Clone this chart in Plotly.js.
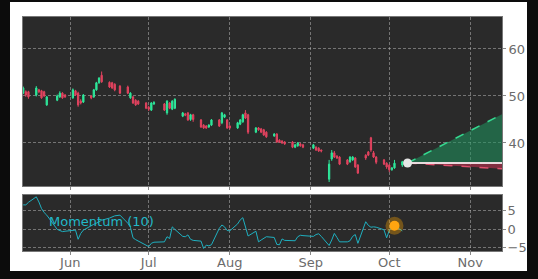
<!DOCTYPE html>
<html><head><meta charset="utf-8">
<script src="https://cdn.plot.ly/plotly-3.0.1.min.js"></script>
<style>html,body{margin:0;padding:0;background:#0c0c0c;width:538px;height:279px;overflow:hidden;}#chart{position:absolute;left:10px;top:2px;width:517px;height:269px;}</style>
</head><body><div id="chart"></div>
<script>
const dates = ['2025-05-14','2025-05-15','2025-05-16','2025-05-19','2025-05-20','2025-05-21','2025-05-22','2025-05-23',
'2025-05-27','2025-05-28','2025-05-29','2025-05-30','2025-06-02','2025-06-03','2025-06-04','2025-06-05','2025-06-06',
'2025-06-09','2025-06-10','2025-06-11','2025-06-12','2025-06-13','2025-06-16','2025-06-17','2025-06-18','2025-06-20',
'2025-06-23','2025-06-24','2025-06-25','2025-06-26','2025-06-27','2025-06-30','2025-07-01','2025-07-02','2025-07-03',
'2025-07-07','2025-07-08','2025-07-09','2025-07-10','2025-07-11','2025-07-14','2025-07-15','2025-07-16','2025-07-17','2025-07-18',
'2025-07-21','2025-07-22','2025-07-23','2025-07-24','2025-07-25','2025-07-28','2025-07-29','2025-07-30','2025-07-31','2025-08-01',
'2025-08-04','2025-08-05','2025-08-06','2025-08-07','2025-08-08','2025-08-11','2025-08-12','2025-08-13','2025-08-14','2025-08-15',
'2025-08-18','2025-08-19','2025-08-20','2025-08-21','2025-08-22','2025-08-25','2025-08-26','2025-08-27','2025-08-28','2025-08-29',
'2025-09-02','2025-09-03','2025-09-04','2025-09-05','2025-09-08','2025-09-09','2025-09-10','2025-09-11','2025-09-12',
'2025-09-15','2025-09-16','2025-09-17','2025-09-18','2025-09-19','2025-09-22','2025-09-23','2025-09-24','2025-09-25','2025-09-26',
'2025-09-29','2025-09-30','2025-10-01','2025-10-02','2025-10-03','2025-10-06','2025-10-07'];
const openP = [50.6,50.9,50.9,50.2,51.3,51.1,50.9,48.1,
49.1,49.8,50.6,50.2,49.6,51.1,50.6,48.9,48.7,
50.0,49.8,51.3,52.8,54.4,52.9,52.8,52.5,52.1,
51.9,49.6,49.8,49.1,48.9,48.5,47.6,47.0,48.3,
48.3,46.4,48.5,47.2,47.4,45.7,46.2,46.4,45.0,46.0,
44.9,43.8,43.6,43.4,43.8,44.9,44.3,45.5,44.9,43.6,
43.2,44.0,44.5,46.4,46.0,42.3,43.2,43.0,42.8,42.3,
41.5,41.9,40.6,40.4,40.2,40.2,39.1,39.4,39.8,39.6,
38.9,39.1,38.9,38.5,32.3,36.6,37.9,37.2,37.0,
36.4,36.0,36.4,36.8,35.3,37.4,38.1,41.1,37.9,37.0,
36.4,35.7,35.3,34.3,34.7,35.3,35.7];
const highP = [52.0,51.2,51.1,52.1,51.5,51.3,51.1,50.0,
50.3,51.0,50.8,50.4,51.6,51.3,50.9,49.3,50.4,
50.2,51.5,53.0,54.0,55.2,53.1,53.0,52.7,52.3,
52.2,50.8,50.0,49.3,49.1,48.7,47.9,48.7,48.9,
48.5,49.1,48.7,49.1,49.5,46.6,46.4,46.6,46.2,46.2,
45.1,44.0,43.8,44.0,45.1,45.1,46.6,46.2,45.1,43.8,
44.5,45.1,46.2,47.0,46.2,43.4,43.4,43.2,43.0,42.5,
42.1,42.1,40.8,40.6,40.4,40.4,39.8,40.2,40.0,39.8,
39.8,39.3,39.1,38.6,36.4,38.5,38.3,37.4,37.2,
36.6,37.2,37.2,37.0,35.5,37.6,38.3,41.3,38.3,37.2,
36.6,35.9,35.5,34.9,36.4,36.2,36.2];
const lowP = [50.4,49.8,49.4,49.9,50.6,49.4,49.8,47.9,
48.9,49.6,49.4,49.6,49.4,50.0,47.7,48.2,48.5,
49.3,49.6,51.1,52.6,52.8,51.7,51.5,51.0,50.4,
50.4,49.4,48.3,47.9,48.1,47.2,46.8,46.8,48.1,
46.8,46.0,47.2,47.0,47.2,45.5,45.7,44.7,44.7,44.5,
43.2,43.0,43.0,43.2,43.6,43.4,44.0,45.3,43.0,42.9,
43.0,43.8,44.3,45.1,41.9,42.1,42.6,42.1,41.5,41.1,
41.3,40.0,40.0,39.8,39.6,38.9,38.9,39.2,39.2,38.9,
38.7,38.3,38.1,38.0,31.7,36.2,36.8,36.6,35.3,
35.3,35.8,36.2,34.7,33.4,36.4,37.2,38.1,36.8,35.5,
35.3,34.5,33.8,34.1,34.5,34.9,35.5];
const closeP = [51.7,50.2,49.8,51.7,50.9,49.6,50.0,49.8,
50.0,50.6,49.6,49.8,51.3,50.2,48.1,48.5,50.2,
49.6,51.3,52.8,53.8,53.0,51.9,51.7,51.3,50.6,
50.6,50.6,48.5,48.1,48.3,47.4,47.2,48.5,48.6,
47.0,48.9,47.4,48.9,49.3,46.4,45.9,44.9,46.0,45.0,
43.4,43.2,43.2,43.8,44.9,43.6,46.4,46.0,43.2,43.2,
44.3,44.9,46.0,45.3,42.3,43.2,42.8,42.3,41.7,41.3,
41.9,40.2,40.2,40.0,39.8,39.1,39.6,40.0,39.4,39.1,
39.6,38.5,38.3,38.3,35.5,37.9,37.0,36.8,35.5,
35.5,37.0,37.0,34.9,33.6,36.8,37.4,38.5,37.0,35.9,
35.5,34.9,34.3,34.7,35.7,36.0,36.0];
const momentum = [6.6,6.6,7.3,8.8,7.4,5.6,4.5,3.8,
-0.1,-0.5,-0.7,-0.6,-0.5,-0.3,-2.8,-1.2,-0.3,
1.0,1.3,1.6,2.0,2.4,3.0,3.4,3.6,3.8,
1.6,0.5,-2.4,-2.9,-3.3,-4.4,-4.8,-3.9,-3.6,
-3.5,-2.1,-2.6,0.6,-0.1,-2.0,-2.1,-1.6,-2.8,-3.1,
-3.3,-5.3,-4.4,-4.6,-4.3,0.2,1.1,0.6,-0.4,-0.5,
1.4,2.5,3.1,0.6,-1.9,-0.6,-3.5,-3.0,-2.6,-2.1,
-2.3,-4.2,-4.3,-2.7,-3.1,-3.3,-3.2,-2.1,-1.7,-1.8,
-2.0,-1.5,-1.3,-2.0,-4.5,-3.0,-1.2,-2.3,-3.5,
-3.5,-3.2,-2.0,-1.5,-3.9,2.0,1.0,0.5,0.6,0.5,
-0.2,-2.4,-0.4,0.6,0.9,-0.5,null];
const lastDate = ['2025-10-08'];
const lastPrice = [35.75];
const forecastX = ['2025-10-08','2025-11-13 03:00'];
const forecastBase = [35.75, 35.75];
const forecastUp = [35.75, 46.1];
const forecastDown = [35.75, 34.5];
const momDotX = ['2025-10-03'];
const momDotY = [0.9];
const monthTicks = ['2025-06-01','2025-07-01','2025-08-01','2025-09-01','2025-10-01','2025-11-01'];
const monthLabels = ['Jun','Jul','Aug','Sep','Oct','Nov'];
const priceTicks = [40,50,60];
const momTicks = [-5,0,5];
const momTickLabels = ['\u22125','0','5'];

const GREEN = '#2ee79a', RED = '#e2435f', TEAL = '#1fb0c0';
const traces = [
  {type:'candlestick', x:dates, open:openP, high:highP, low:lowP, close:closeP, xaxis:'x', yaxis:'y',
   increasing:{line:{color:GREEN,width:1}, fillcolor:GREEN},
   decreasing:{line:{color:RED,width:1}, fillcolor:RED}, whiskerwidth:0, hoverinfo:'skip'},
  {type:'scatter', mode:'lines', x:forecastX, y:forecastBase, line:{width:0}, xaxis:'x', yaxis:'y', hoverinfo:'skip'},
  {type:'scatter', mode:'lines', x:forecastX, y:forecastUp, fill:'tonexty', fillcolor:'rgba(30,150,95,0.55)',
   line:{color:'#35d990', width:1.5, dash:'dash'}, xaxis:'x', yaxis:'y', hoverinfo:'skip'},
  {type:'scatter', mode:'lines', x:forecastX, y:forecastBase, line:{width:0}, xaxis:'x', yaxis:'y', hoverinfo:'skip'},
  {type:'scatter', mode:'lines', x:forecastX, y:forecastDown, fill:'tonexty', fillcolor:'rgba(190,50,80,0.6)',
   line:{color:'#e0506e', width:1.5, dash:'dash'}, xaxis:'x', yaxis:'y', hoverinfo:'skip'},
  {type:'scatter', mode:'lines', x:forecastX, y:forecastBase, line:{color:'rgba(240,225,230,0.95)', width:2}, xaxis:'x', yaxis:'y', hoverinfo:'skip'},
  {type:'scatter', mode:'markers', x:lastDate, y:lastPrice, marker:{color:'#e6e6e6', size:9}, xaxis:'x', yaxis:'y', hoverinfo:'skip'},
  {type:'scatter', mode:'lines', x:dates, y:momentum, line:{color:TEAL, width:1}, xaxis:'x2', yaxis:'y2', hoverinfo:'skip'},
  {type:'scatter', mode:'markers', x:momDotX, y:momDotY, marker:{color:'rgba(255,165,0,0.35)', size:18}, xaxis:'x2', yaxis:'y2', hoverinfo:'skip'},
  {type:'scatter', mode:'markers', x:momDotX, y:momDotY, marker:{color:'#ffa510', size:10}, xaxis:'x2', yaxis:'y2', hoverinfo:'skip'}
];
const xRange = ['2025-05-13 22:00','2025-11-13 03:00'];
const gridC = 'rgba(190,190,190,0.5)';
const gridDash = '3px,2px';
const tickFont = {family:'DejaVu Sans', size:13, color:'#6b6b6b'};
const xBase = {type:'date', range:xRange, tickmode:'array', tickvals:monthTicks, showgrid:true, gridcolor:gridC, griddash:gridDash, gridwidth:1,
  ticks:'outside', ticklen:3, tickcolor:'#888', showline:true, mirror:true, linecolor:'#777', zeroline:false, fixedrange:true};
const layout = {
  width:517, height:269, margin:{l:13, r:25, t:15, b:20},
  paper_bgcolor:'#ffffff', plot_bgcolor:'#2a2a2a', showlegend:false,
  font:{family:'DejaVu Sans', size:13, color:'#6b6b6b'},
  xaxis: Object.assign({}, xBase, {anchor:'y', showticklabels:false, rangeslider:{visible:false}, matches:'x2'}),
  xaxis2: Object.assign({}, xBase, {anchor:'y2', ticktext:monthLabels, tickfont:tickFont, ticklabelstandoff:-4}),
  yaxis: {domain:[0.2778,1], side:'right', range:[30.85,66.8], tickmode:'array', tickvals:priceTicks, tickfont:tickFont,
    showgrid:true, gridcolor:gridC, griddash:gridDash, ticks:'outside', ticklen:3, tickcolor:'#888', showline:true, mirror:true, linecolor:'#777', zeroline:false, fixedrange:true},
  yaxis2: {domain:[0,0.2393], side:'right', range:[-6,9.3], tickmode:'array', tickvals:momTicks, ticktext:momTickLabels, tickfont:tickFont,
    ticklabelstandoff:-1,
    showgrid:true, gridcolor:gridC, griddash:gridDash, ticks:'outside', ticklen:3, tickcolor:'#888', showline:true, mirror:true, linecolor:'#777', zeroline:false, fixedrange:true},
  annotations:[{xref:'paper', yref:'paper', x:0.050, y:0.128, xanchor:'left', yanchor:'middle', showarrow:false,
    text:'Momentum (10)', font:{family:'DejaVu Sans', size:13, color:'#22b8c8'}}]
};
Plotly.newPlot('chart', traces, layout, {displayModeBar:false, staticPlot:true});
</script></body></html>
